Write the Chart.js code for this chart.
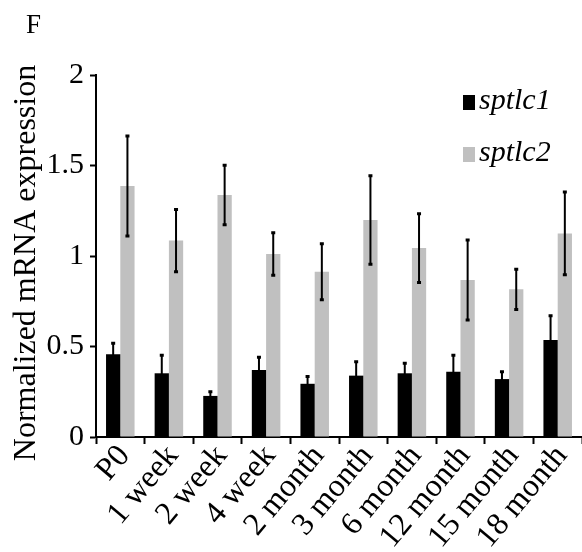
<!DOCTYPE html>
<html>
<head>
<meta charset="utf-8">
<script src="https://cdn.jsdelivr.net/npm/chart.js@4/dist/chart.umd.min.js"></script>
<style>
html,body{margin:0;padding:0;background:#fff;}
#wrap{width:582px;height:552px;}
</style>
</head>
<body>
<div id="wrap"><canvas id="c" width="582" height="552"></canvas></div>
<script>
const categories = ['P0','1 week','2 week','4 week','2 month','3 month','6 month','12 month','15 month','18 month'];
const sptlc1 = [0.457, 0.352, 0.227, 0.370, 0.294, 0.339, 0.352, 0.361, 0.320, 0.536];
const sptlc1Err = [0.061, 0.099, 0.023, 0.070, 0.040, 0.077, 0.055, 0.090, 0.041, 0.134];
const sptlc2 = [1.387, 1.085, 1.337, 1.011, 0.913, 1.199, 1.044, 0.867, 0.816, 1.125];
const sptlc2Err = [0.276, 0.172, 0.165, 0.118, 0.155, 0.245, 0.190, 0.221, 0.111, 0.228];
const yTicks = [0, 0.5, 1, 1.5, 2];
const yTickLabels = ['0', '0.5', '1', '1.5', '2'];
const seriesNames = ['sptlc1', 'sptlc2'];
const panelLabel = 'F';
const yTitle = 'Normalized mRNA expression';

const SERIF = '"Liberation Serif", "Times New Roman", Times, serif';
const errors = [sptlc1Err, sptlc2Err];

const errorBarPlugin = {
  id: 'errorBars',
  afterDatasetsDraw(chart) {
    const ctx = chart.ctx;
    const y = chart.scales.y;
    ctx.save();
    ctx.strokeStyle = '#000';
    chart.data.datasets.forEach((ds, di) => {
      const meta = chart.getDatasetMeta(di);
      meta.data.forEach((bar, i) => {
        const v = ds.data[i], e = errors[di][i];
        const yt = y.getPixelForValue(v + e);
        const yb = y.getPixelForValue(v - e);
        ctx.lineWidth = 2;
        ctx.beginPath();
        ctx.moveTo(bar.x, yt);
        ctx.lineTo(bar.x, yb);
        ctx.stroke();
        ctx.lineWidth = 3;
        ctx.beginPath();
        ctx.moveTo(bar.x - 2, yt); ctx.lineTo(bar.x + 2, yt);
        ctx.moveTo(bar.x - 2, yb); ctx.lineTo(bar.x + 2, yb);
        ctx.stroke();
      });
    });
    ctx.restore();
  }
};

const decorPlugin = {
  id: 'decor',
  afterDraw(chart) {
    const ctx = chart.ctx;
    ctx.save();
    ctx.fillStyle = '#000';
    // panel label
    ctx.font = '27px ' + SERIF;
    ctx.textAlign = 'left';
    ctx.textBaseline = 'alphabetic';
    ctx.fillText(panelLabel, 26, 33);
    // y axis title
    ctx.save();
    ctx.translate(27, 263);
    ctx.rotate(-Math.PI / 2);
    ctx.font = '32px ' + SERIF;
    ctx.textAlign = 'center';
    ctx.textBaseline = 'middle';
    ctx.fillText(yTitle, 0, 0);
    ctx.restore();
    // legend
    const rows = [{y: 95}, {y: 147}];
    chart.data.datasets.forEach((ds, i) => {
      const r = rows[i];
      ctx.fillStyle = ds.backgroundColor;
      ctx.fillRect(463, r.y, 12, 15);
      ctx.fillStyle = '#000';
      ctx.font = 'italic 30px ' + SERIF;
      ctx.textAlign = 'left';
      ctx.textBaseline = 'alphabetic';
      ctx.fillText(ds.label, 479, r.y + 14);
    });
    ctx.restore();
  }
};

new Chart(document.getElementById('c'), {
  type: 'bar',
  data: {
    labels: categories,
    datasets: [
      { label: seriesNames[0], data: sptlc1, backgroundColor: '#000000', borderWidth: 0 },
      { label: seriesNames[1], data: sptlc2, backgroundColor: '#c0c0c0', borderWidth: 0 }
    ]
  },
  options: {
    responsive: false,
    animation: false,
    devicePixelRatio: 1,
    layout: { padding: { top: 75, left: 0, right: -3, bottom: 0 } },
    datasets: { bar: { categoryPercentage: 0.587, barPercentage: 1.0 } },
    plugins: {
      legend: { display: false },
      tooltip: { enabled: false },
      title: { display: false }
    },
    scales: {
      x: {
        offset: true,
        grid: { display: true, offset: true, drawOnChartArea: false, drawTicks: true, tickLength: 7, tickWidth: 2, tickColor: '#000', color: '#000' },
        border: { display: true, color: '#000', width: 2 },
        ticks: {
          color: '#000',
          font: { family: SERIF, size: 32 },
          minRotation: 50, maxRotation: 50,
          padding: -6,
          labelOffset: 4,
          autoSkip: false
        },
        afterFit(scale) { scale.height = 115; scale.paddingLeft = 0; scale.paddingRight = 0; }
      },
      y: {
        min: 0, max: 2,
        afterBuildTicks(scale) { scale.ticks = yTicks.map(v => ({ value: v })); },
        grid: { display: true, drawOnChartArea: false, drawTicks: true, tickLength: 6, tickWidth: 2, tickColor: '#000', color: '#000' },
        border: { display: true, color: '#000', width: 2 },
        ticks: {
          color: '#000',
          font: { family: SERIF, size: 30 },
          padding: 6,
          callback: (v) => { const k = yTicks.indexOf(v); return k >= 0 ? yTickLabels[k] : ''; }
        },
        title: { display: false },
        afterFit(scale) { scale.width = 96; scale.paddingTop = 0; scale.paddingBottom = 0; }
      }
    }
  },
  plugins: [errorBarPlugin, decorPlugin]
});
</script>
</body>
</html>
